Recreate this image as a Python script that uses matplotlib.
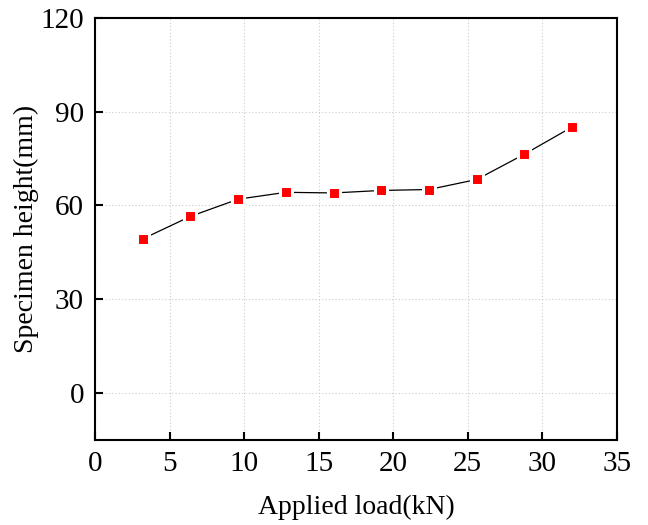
import matplotlib
matplotlib.use("Agg")
import matplotlib.pyplot as plt

# данные: нагрузка и высота образца
load_kn = [3.2, 6.4, 9.6, 12.8, 16.0, 19.2, 22.4, 25.6, 28.8, 32.0]
height_mm = [49.3, 56.5, 62.0, 64.2, 64.0, 64.8, 65.1, 68.3, 76.4, 85.1]

x_ticks = [0, 5, 10, 15, 20, 25, 30, 35]
y_ticks = [0, 30, 60, 90, 120]

plt.rcParams["font.family"] = ["Liberation Serif", "DejaVu Serif"]

fig = plt.figure(figsize=(6.48, 5.25), dpi=100)
ax = fig.add_axes([0.1466, 0.162, 0.8054, 0.804])

ax.plot(load_kn, height_mm, color="black", linewidth=0.9,
        marker="s", markersize=9, markerfacecolor="red",
        markeredgecolor="white", markeredgewidth=2.2, zorder=3)

ax.set_xlim(0, 35)
ax.set_ylim(-15, 120)
ax.set_xticks(x_ticks)
ax.set_yticks(y_ticks)

ax.grid(True, color="#cccccc", linestyle=(0, (1, 2)), linewidth=0.8)
ax.set_axisbelow(True)

for s in ax.spines.values():
    s.set_linewidth(1.5)

ax.tick_params(direction="in", length=6, width=1.5, labelsize=21, pad=8)

ax.set_xlabel("Applied load(kN)", fontsize=20, labelpad=13)
ax.set_ylabel("Specimen height(mm)", fontsize=20, labelpad=1)

fig.savefig("out.png", dpi=100)
